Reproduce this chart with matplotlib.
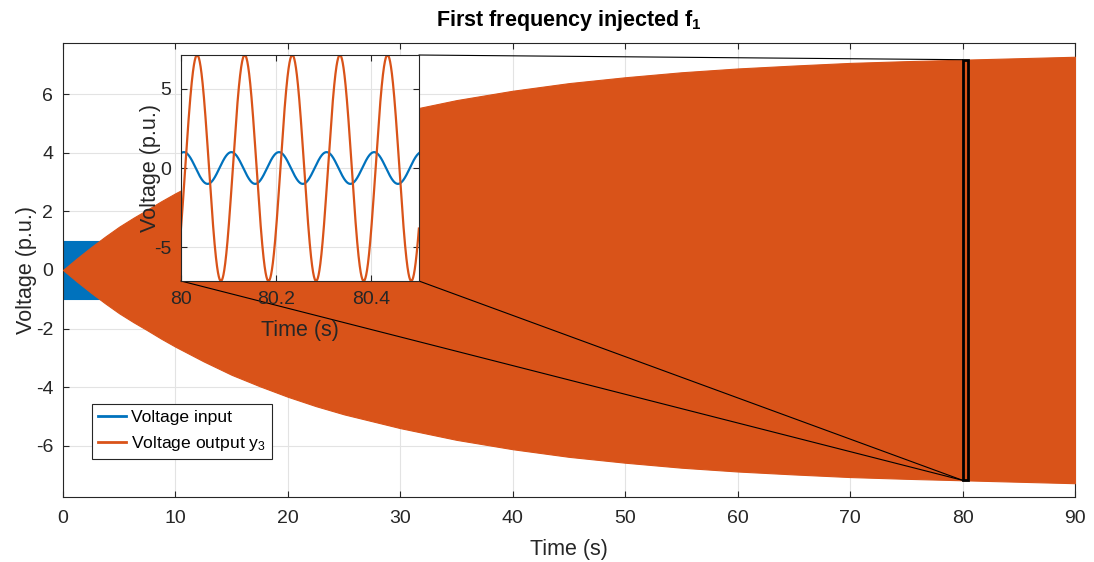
import matplotlib
matplotlib.use("Agg")
import matplotlib.pyplot as plt
import numpy as np
from matplotlib.patches import Rectangle, ConnectionPatch
from matplotlib.lines import Line2D

plt.rcParams['font.family'] = ['Liberation Sans', 'DejaVu Sans']
plt.rcParams['mathtext.fontset'] = 'custom'
plt.rcParams['mathtext.rm'] = 'Liberation Sans'
plt.rcParams['mathtext.bf'] = 'Liberation Sans:bold'
plt.rcParams['mathtext.default'] = 'regular'
plt.rcParams['axes.unicode_minus'] = False

# envelope of the output, input amplitude is 1
t_env = [0, 1.25, 2.5, 3.75, 5, 6.25, 7.5, 8.75, 10, 12.5, 15, 17.5, 20, 22.5, 25, 30,
         35, 40, 45, 50, 55, 60, 65, 70, 75, 80, 85, 90]
y_env = [0, 0.40, 0.78, 1.14, 1.48, 1.78, 2.06, 2.35, 2.62, 3.12, 3.58, 3.97, 4.33, 4.65,
         4.93, 5.40, 5.80, 6.12, 6.38, 6.58, 6.75, 6.88, 6.98, 7.07, 7.13, 7.18, 7.23, 7.28]
t_in = [0, 90]
amp_in = 1.0

# zoomed window
zoom_x = [80, 80.5]
freq = 10.0          # Hz
amp_out_zoom = 7.12
peak_in = 80.006     # time of an input peak
peak_out = 80.034    # time of an output peak

blue = '#0072BD'
orange = '#D95319'
dark = '#262626'

fig = plt.figure(figsize=(10.94, 5.62), dpi=100)
ax = fig.add_axes([0.0576, 0.1157, 0.925, 0.8078])

ax.fill_between(t_in, -amp_in, amp_in, color=blue, lw=0.8, zorder=2)
ax.fill_between(t_env, -np.array(y_env), y_env, color=orange, lw=0.8, zorder=3)

ax.set_xlim(0, 90)
ax.set_ylim(-7.75, 7.75)
ax.set_xticks(range(0, 91, 10))
ax.set_yticks(range(-6, 7, 2))
ax.grid(True, color='#e3e3e3', lw=0.8)
ax.set_axisbelow(True)
ax.tick_params(direction='in', length=4, width=0.8, labelsize=14, colors=dark,
               top=True, right=True, pad=7)
ax.tick_params(axis='x', pad=9.5)
for s in ax.spines.values():
    s.set_color(dark)
    s.set_linewidth(0.8)
ax.set_xlabel('Time (s)', fontsize=15.5, color=dark, labelpad=8.5)
ax.set_ylabel('Voltage (p.u.)', fontsize=15.5, color=dark, labelpad=-1)
ax.set_title('First frequency injected f$_\\mathbf{1}$', fontsize=15.5, fontweight='bold', pad=12)

# zoom rectangle
env80 = np.interp(zoom_x[0], t_env, y_env)
ax.add_patch(Rectangle((zoom_x[0], -env80), zoom_x[1] - zoom_x[0], 2 * env80,
                       fill=False, ec='black', lw=2, zorder=5))

handles = [Line2D([], [], color=blue, lw=2), Line2D([], [], color=orange, lw=2)]
leg = ax.legend(handles, ['Voltage input', 'Voltage output y$_3$'], loc='upper left',
                bbox_to_anchor=(0.0287, 0.205), fontsize=12.6, handlelength=1.6,
                handletextpad=0.25, borderpad=0.35, labelspacing=0.5, borderaxespad=0,
                fancybox=False, framealpha=1)
leg.get_frame().set_edgecolor(dark)
leg.get_frame().set_linewidth(0.8)

# inset
axi = fig.add_axes([0.1654, 0.5, 0.2175, 0.4021])
tz = np.linspace(zoom_x[0], zoom_x[1], 2000)
axi.plot(tz, amp_in * np.cos(2 * np.pi * freq * (tz - peak_in)), color=blue, lw=1.6)
axi.plot(tz, amp_out_zoom * np.cos(2 * np.pi * freq * (tz - peak_out)), color=orange, lw=1.6)
axi.set_xlim(zoom_x)
axi.set_ylim(-amp_out_zoom, amp_out_zoom)
axi.set_xticks([80, 80.2, 80.4])
axi.set_xticklabels(['80', '80.2', '80.4'])
axi.set_yticks([-5, 0, 5])
axi.grid(True, color='#e3e3e3', lw=0.8)
axi.tick_params(direction='in', length=4, width=0.8, labelsize=14, colors=dark,
                top=True, right=True, pad=7)
for s in axi.spines.values():
    s.set_color(dark)
    s.set_linewidth(0.8)
axi.set_xlabel('Time (s)', fontsize=15.5, color=dark, labelpad=9)
axi.set_ylabel('Voltage (p.u.)', fontsize=15.5, color=dark, labelpad=-5)

# lines from the inset to the zoom rectangle
for a, b in [((1, 1), (zoom_x[0], env80)), ((0, 0), (zoom_x[0], -env80)),
             ((1, 0), (zoom_x[0], -env80))]:
    cp = ConnectionPatch(xyA=a, coordsA=axi.transAxes, xyB=b, coordsB=ax.transData,
                         color='black', lw=0.8, zorder=4)
    ax.add_artist(cp)

fig.savefig('out.png', dpi=100)
